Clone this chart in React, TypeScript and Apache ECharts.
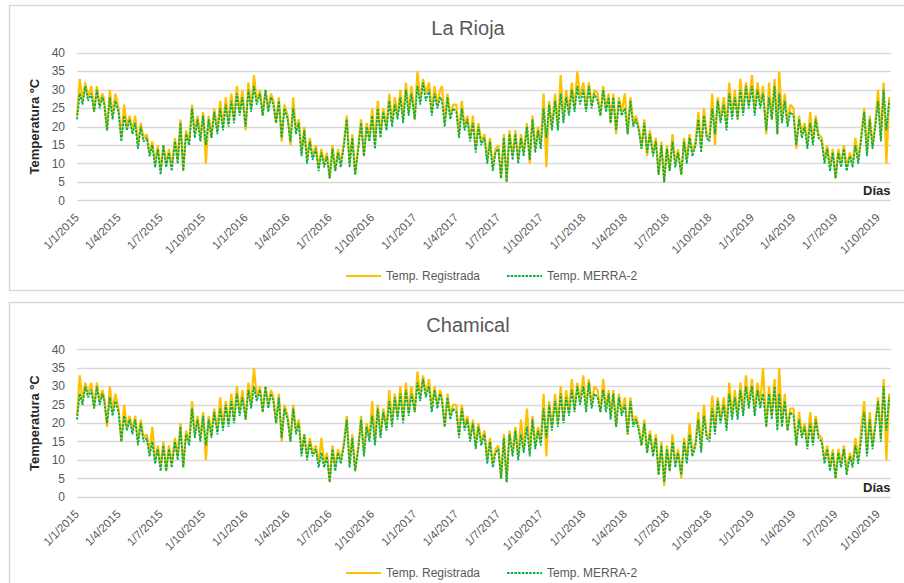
import React, { useEffect, useRef } from "react";
import * as echarts from "echarts";

// ---- axis / category definitions ----
const START_UTC = Date.UTC(2015, 0, 1);
const END_UTC = Date.UTC(2019, 9, 29);
const SAMPLE_DAYS = [1, 7, 13, 19, 25]; // days of each month where values were read
const TICK_MONTHS = [1, 4, 7, 10]; // date-axis labels every 3 months
const Y_MIN = 0;
const Y_MAX = 40;
const Y_INTERVAL = 5;
const SERIES_NAMES = ["Temp. Registrada", "Temp. MERRA-2"];
const PANEL_TITLES = ["La Rioja", "Chamical"];
const Y_NAME = "Temperatura ºC";
const X_NAME = "Días";

// ---- values: 5 readings per month, Jan 2015 .. Oct 2019 ----
const rioRegistrada = [
  23, 33, 27, 32, 28, 31, 24, 31, 26, 29, 27, 19, 30, 23, 29, 25, 17, 26, 20, 23,
  19, 23, 15, 21, 17, 18, 13, 16, 10, 15, 8, 15, 10, 14, 9, 17, 11, 22, 8, 19,
  16, 26, 18, 23, 17, 24, 10, 23, 17, 25, 19, 27, 20, 28, 21, 29, 22, 31, 24, 30,
  19, 32, 25, 34, 27, 30, 23, 30, 25, 29, 27, 21, 28, 16, 26, 23, 15, 28, 19, 22,
  13, 20, 11, 17, 12, 15, 9, 14, 10, 13, 6, 15, 8, 14, 10, 16, 23, 10, 18, 7,
  15, 22, 12, 21, 17, 25, 15, 27, 18, 25, 20, 29, 21, 28, 23, 30, 22, 32, 24, 31,
  22, 35, 27, 33, 29, 32, 24, 31, 26, 30, 31, 21, 29, 23, 26, 26, 18, 27, 20, 23,
  17, 23, 14, 21, 16, 18, 11, 17, 9, 14, 15, 6, 18, 5, 19, 12, 19, 11, 18, 13,
  21, 10, 23, 14, 20, 15, 29, 9, 27, 20, 29, 20, 34, 22, 30, 24, 32, 25, 35, 28,
  32, 25, 32, 26, 30, 29, 23, 31, 25, 29, 21, 29, 18, 28, 24, 29, 18, 28, 21, 23,
  20, 14, 22, 12, 19, 13, 17, 7, 16, 5, 15, 8, 18, 10, 14, 7, 17, 11, 18, 13,
  16, 24, 14, 25, 18, 17, 29, 15, 28, 22, 28, 20, 32, 23, 30, 22, 33, 24, 32, 26,
  34, 24, 32, 26, 31, 18, 32, 22, 33, 18, 35, 22, 29, 21, 26, 25, 14, 23, 18, 21,
  15, 24, 16, 23, 18, 17, 11, 15, 9, 14, 6, 14, 10, 15, 9, 13, 10, 17, 11, 17,
  25, 13, 23, 15, 21, 30, 17, 32, 10, 28,
];
const rioMerra = [
  22, 29, 26, 31, 27, 29, 24, 30, 25, 28, 26, 19, 28, 22, 27, 24, 16, 23, 19, 22,
  18, 21, 14, 20, 16, 17, 12, 15, 9, 14, 7, 15, 9, 13, 8, 16, 10, 21, 8, 18,
  15, 25, 17, 22, 16, 23, 15, 22, 17, 24, 18, 25, 19, 26, 20, 27, 21, 29, 23, 28,
  20, 30, 24, 31, 26, 29, 23, 30, 24, 28, 26, 21, 27, 17, 25, 22, 16, 25, 18, 21,
  12, 19, 10, 16, 11, 14, 8, 13, 9, 12, 6, 14, 8, 13, 9, 15, 22, 9, 17, 7,
  14, 21, 12, 20, 16, 23, 14, 25, 17, 24, 19, 27, 20, 26, 22, 28, 21, 30, 23, 29,
  22, 31, 26, 32, 27, 30, 23, 29, 25, 28, 27, 20, 28, 22, 25, 24, 17, 25, 19, 22,
  16, 21, 13, 20, 15, 17, 10, 16, 8, 13, 14, 6, 17, 5, 18, 11, 18, 10, 17, 12,
  20, 11, 22, 13, 19, 14, 25, 17, 26, 19, 27, 19, 29, 21, 28, 23, 30, 24, 31, 26,
  30, 24, 31, 25, 29, 27, 23, 30, 24, 28, 21, 28, 19, 27, 23, 25, 18, 27, 20, 22,
  19, 14, 21, 13, 18, 12, 16, 7, 15, 5, 14, 8, 16, 9, 13, 7, 16, 10, 17, 12,
  15, 22, 13, 23, 17, 16, 25, 18, 27, 21, 26, 19, 29, 22, 28, 22, 30, 23, 31, 25,
  31, 23, 30, 25, 29, 19, 28, 22, 31, 18, 29, 21, 27, 20, 24, 23, 15, 22, 17, 20,
  14, 21, 15, 22, 17, 16, 10, 14, 8, 13, 6, 13, 9, 14, 8, 12, 9, 15, 10, 16,
  24, 12, 22, 14, 20, 27, 16, 30, 19, 27,
];
const chaRegistrada = [
  22, 33, 26, 31, 28, 31, 24, 31, 26, 29, 27, 19, 30, 23, 28, 24, 15, 25, 19, 22,
  18, 22, 15, 21, 16, 17, 12, 19, 10, 14, 8, 15, 7, 14, 9, 16, 11, 20, 8, 18,
  15, 26, 17, 22, 16, 23, 10, 22, 17, 24, 18, 27, 19, 26, 20, 28, 21, 30, 23, 29,
  21, 31, 25, 35, 27, 30, 23, 30, 25, 29, 27, 20, 28, 15, 25, 22, 15, 25, 18, 21,
  12, 17, 11, 16, 12, 14, 9, 16, 9, 12, 4, 14, 8, 13, 10, 15, 22, 9, 17, 7,
  14, 22, 12, 20, 16, 26, 15, 25, 17, 24, 19, 29, 20, 28, 22, 30, 21, 31, 23, 30,
  23, 34, 27, 33, 28, 32, 24, 30, 25, 29, 27, 19, 28, 22, 25, 25, 17, 25, 19, 22,
  16, 21, 14, 20, 15, 18, 10, 16, 9, 13, 14, 5, 17, 4, 18, 12, 19, 11, 21, 13,
  24, 12, 22, 14, 19, 15, 28, 11, 26, 19, 28, 20, 30, 21, 29, 23, 32, 24, 31, 26,
  33, 24, 32, 25, 30, 29, 23, 32, 24, 29, 22, 29, 19, 28, 23, 27, 17, 27, 20, 22,
  19, 14, 21, 12, 18, 12, 17, 6, 15, 3, 14, 7, 17, 9, 13, 5, 16, 10, 20, 12,
  15, 23, 13, 25, 17, 16, 27.5, 18, 27, 21, 27, 19, 31, 22, 29, 22, 31, 23, 33, 25,
  32, 23, 31, 25, 35, 19, 30, 22, 32, 19, 35, 20, 28, 18, 24, 24, 14, 23, 17, 20,
  14, 23, 15, 22, 17, 16, 10, 14, 8, 13, 5, 13, 9, 14, 7, 12, 9, 16, 10, 18,
  26, 12, 23, 14, 20, 27, 16, 32, 10, 28,
];
const chaMerra = [
  21, 28, 25, 30, 27, 29, 24, 30, 25, 28, 26, 20, 27, 22, 26, 23, 15, 22, 18, 21,
  17, 21, 14, 20, 15, 16, 11, 15, 9, 13, 7, 14, 7, 13, 8, 15, 10, 19, 8, 17,
  14, 24, 16, 21, 15, 22, 14, 21, 16, 23, 17, 24, 18, 25, 19, 26, 20, 28, 22, 27,
  21, 29, 24, 30, 26, 29, 23, 30, 24, 28, 26, 20, 27, 16, 24, 21, 15, 24, 17, 20,
  11, 17, 10, 15, 11, 13, 8, 12, 8, 11, 4, 13, 7, 12, 9, 14, 21, 8, 16, 7,
  13, 21, 11, 19, 15, 22, 14, 24, 16, 23, 18, 26, 19, 27, 21, 28, 20, 29, 22, 28,
  23, 31, 26, 32, 27, 30, 23, 29, 24, 28, 26, 19, 27, 21, 24, 23, 16, 24, 18, 21,
  15, 20, 13, 19, 14, 17, 9, 15, 8, 12, 13, 5, 16, 4, 17, 11, 18, 10, 17, 12,
  19, 11, 21, 13, 18, 14, 24, 16, 25, 18, 26, 19, 28, 20, 27, 22, 29, 23, 30, 25,
  30, 23, 31, 24, 28, 27, 23, 29, 23, 28, 21, 28, 19, 27, 22, 25, 17, 26, 19, 21,
  18, 14, 20, 12, 17, 11, 16, 6, 14, 4, 13, 7, 15, 8, 12, 6, 15, 9, 17, 11,
  14, 21, 12, 22, 16, 15, 24, 17, 26, 20, 25, 18, 28, 21, 27, 21, 29, 22, 30, 24,
  30, 22, 29, 24, 28, 19, 28, 21, 30, 18, 28, 19, 26, 18, 23, 22, 14, 21, 16, 19,
  13, 20, 14, 21, 16, 15, 9, 13, 7, 12, 5, 12, 8, 13, 6, 11, 8, 14, 9, 15,
  23, 11, 21, 13, 19, 26, 15, 30, 18, 27,
];

const DAY_MS = 86400000;

function buildCategories(): string[] {
  const out: string[] = [];
  for (let t = START_UTC; t <= END_UTC; t += DAY_MS) {
    const d = new Date(t);
    out.push(`${d.getUTCDate()}/${d.getUTCMonth() + 1}/${d.getUTCFullYear()}`);
  }
  return out;
}

function toPairs(values: number[]): [number, number][] {
  return values.map((v, i) => {
    const mi = Math.floor(i / SAMPLE_DAYS.length);
    const k = i % SAMPLE_DAYS.length;
    const year = 2015 + Math.floor(mi / 12);
    const month = mi % 12;
    const idx = Math.round((Date.UTC(year, month, SAMPLE_DAYS[k]) - START_UTC) / DAY_MS);
    return [idx, v];
  });
}

const FONT = "'Liberation Sans', Arial, sans-serif";
const GRAY_TEXT = "#595959";
const GRID_LINE = "#d9d9d9";
const ORANGE = "#FFC000";
const GREEN = "#00B050";

export default function App() {
  const ref = useRef<HTMLDivElement>(null);

  useEffect(() => {
    if (!ref.current) return;
    const chart = echarts.init(ref.current, undefined, { renderer: "svg" });
    const categories = buildCategories();
    const panels = [
      { top: 53, reg: rioRegistrada, merra: rioMerra },
      { top: 349.5, reg: chaRegistrada, merra: chaMerra },
    ];
    const panelOffsets = [0, 297];

    const grid = panels.map((p) => ({ left: 77, top: p.top, width: 814, height: 147.5, containLabel: false }));
    const xAxis = panels.map((_, i) => ({
      type: "category" as const,
      gridIndex: i,
      data: categories,
      boundaryGap: false,
      axisLine: { show: false },
      axisTick: { show: false },
      axisLabel: {
        interval: (_idx: number, val: string) => {
          const parts = val.split("/");
          return parts[0] === "1" && TICK_MONTHS.includes(Number(parts[1]));
        },
        rotate: 45,
        margin: 15,
        color: GRAY_TEXT,
        fontSize: 11.5,
        fontFamily: FONT,
      },
      splitLine: { show: false },
    }));
    const yAxis = panels.map((_, i) => ({
      type: "value" as const,
      gridIndex: i,
      min: Y_MIN,
      max: Y_MAX,
      interval: Y_INTERVAL,
      name: Y_NAME,
      nameLocation: "middle" as const,
      nameGap: 34,
      nameTextStyle: { fontWeight: "bold", fontSize: 13, color: "#262626", fontFamily: FONT },
      axisLine: { show: false },
      axisTick: { show: false },
      axisLabel: { color: GRAY_TEXT, fontSize: 12, fontFamily: FONT, margin: 12 },
      splitLine: { lineStyle: { color: GRID_LINE, width: 1.3 } },
    }));
    const series: any[] = [];
    panels.forEach((p, i) => {
      series.push({
        name: SERIES_NAMES[0],
        type: "line",
        xAxisIndex: i,
        yAxisIndex: i,
        data: toPairs(p.reg),
        symbol: "none",
        lineStyle: { color: ORANGE, width: 2.2 },
        itemStyle: { color: ORANGE },
        z: 2,
      });
      series.push({
        name: SERIES_NAMES[1],
        type: "line",
        xAxisIndex: i,
        yAxisIndex: i,
        data: toPairs(p.merra),
        symbol: "none",
        lineStyle: { color: GREEN, width: 1.8, type: [2.5, 1.2] },
        itemStyle: { color: GREEN },
        z: 3,
      });
    });

    const option: any = {
      animation: false,
      backgroundColor: "#ffffff",
      textStyle: { fontFamily: FONT },
      title: PANEL_TITLES.map((t, i) => ({
        text: t,
        left: 463,
        textAlign: "center",
        top: 13 + panelOffsets[i],
        textStyle: { fontSize: 20, fontWeight: "normal", color: GRAY_TEXT, fontFamily: FONT },
      })),
      legend: panelOffsets.map((off) => ({
        data: SERIES_NAMES,
        left: 340,
        top: 265 + off,
        itemWidth: 35,
        itemHeight: 12,
        itemGap: 26,
        itemStyle: { opacity: 0 },
        textStyle: { color: GRAY_TEXT, fontSize: 12, fontFamily: FONT },
      })),
      grid,
      xAxis,
      yAxis,
      series,
      graphic: [
        {
          type: "rect",
          shape: { x: 9.5, y: 5.5, width: 900, height: 285 },
          style: { fill: "none", stroke: GRID_LINE, lineWidth: 1.5 },
          silent: true,
        },
        {
          type: "rect",
          shape: { x: 9.5, y: 302.5, width: 900, height: 290 },
          style: { fill: "none", stroke: GRID_LINE, lineWidth: 1.5 },
          silent: true,
        },
        ...panelOffsets.map((off) => ({
          type: "text",
          left: 863,
          top: 184 + off,
          style: { text: X_NAME, font: `bold 13px ${FONT}`, fill: "#262626" },
          z: 10,
        })),
      ],
    };
    chart.setOption(option);
    return () => chart.dispose();
  }, []);

  return (
    <div style={{ position: "fixed", left: 0, top: 0, width: 904, height: 583, background: "#fff" }}>
      <div ref={ref} style={{ width: 904, height: 583 }} />
    </div>
  );
}
